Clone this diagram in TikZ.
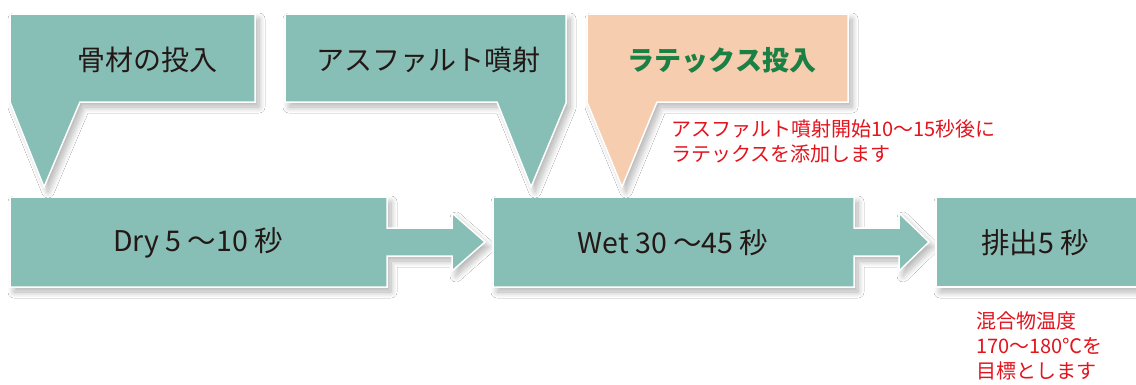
\documentclass[tikz,border=0pt]{standalone}
\usepackage{fontspec}
\setmainfont{Noto Sans CJK JP}
\usetikzlibrary{shadows.blur}
\definecolor{tealbox}{HTML}{87BEB6}
\definecolor{peachbox}{HTML}{F7CDB0}
\definecolor{greentxt}{HTML}{1B8043}
\definecolor{redtxt}{HTML}{E2141E}
\definecolor{darktxt}{HTML}{231815}
\begin{document}
\begin{tikzpicture}[x=1pt,y=-1pt,
  panel/.style={draw=white, line width=1.5pt, line join=miter,
    blur shadow={shadow xshift=4pt, shadow yshift=-5pt, shadow blur steps=12, shadow blur radius=6pt, shadow opacity=30}},
  tealpanel/.style={panel, fill=tealbox},
  peachpanel/.style={panel, fill=peachbox},
  lbl/.style={inner sep=0pt, text=darktxt, font=\fontsize{28}{32}\selectfont},
  boxlbl/.style={inner sep=0pt, text=darktxt, font=\fontsize{28.5}{32}\selectfont},
  note/.style={inner sep=0pt, anchor=west, align=left, text=redtxt, font=\fontsize{20}{25}\selectfont}]
\useasboundingbox (0,0) rectangle (1136,384);
\fill[white] (0,0) rectangle (1136,384);
% process boxes with arrows
\path[tealpanel] (10,197) -- (387,197) -- (387,228) -- (452,228) -- (452,213) -- (485,242) -- (452,271) -- (452,256) -- (387,256) -- (387,287) -- (10,287) -- cycle;
\path[tealpanel] (493,197) -- (854,197) -- (854,228) -- (899,228) -- (899,213) -- (929,242) -- (899,271) -- (899,256) -- (854,256) -- (854,287) -- (493,287) -- cycle;
\path[tealpanel] (936,197) -- (1145,197) -- (1145,287) -- (936,287) -- cycle;
% callouts
\path[tealpanel] (10,14) -- (255,14) -- (255,102) -- (80,102) -- (44,187) -- (10,102) -- cycle;
\path[tealpanel] (285,14) -- (566,14) -- (566,103) -- (531,187) -- (497,102) -- (285,102) -- cycle;
\path[peachpanel] (587,14) -- (848,14) -- (848,102) -- (657,102) -- (622,187) -- (587,102) -- cycle;
% labels
\node[lbl] (c1) at (147,60) {骨材の投入};
\node[lbl] (c2) at (428,60) {アスファルト噴射};
\node[lbl, text=greentxt, font=\fontsize{27}{32}\selectfont\bfseries] (c3) at (722,60) {ラテックス投入};
\node[boxlbl] (b1) at (198,243) {Dry 5 〜10 秒};
\node[boxlbl] (b2) at (673,243) {Wet 30 〜45 秒};
\node[boxlbl] (b3) at (1035,243) {排出5 秒};
\node[note] (n1) at (671,141.5) {アスファルト噴射開始10〜15秒後に\\ラテックスを添加します};
\node[note] (n2) at (976,346) {混合物温度\\170〜180℃を\\目標とします};
\end{tikzpicture}
\end{document}
